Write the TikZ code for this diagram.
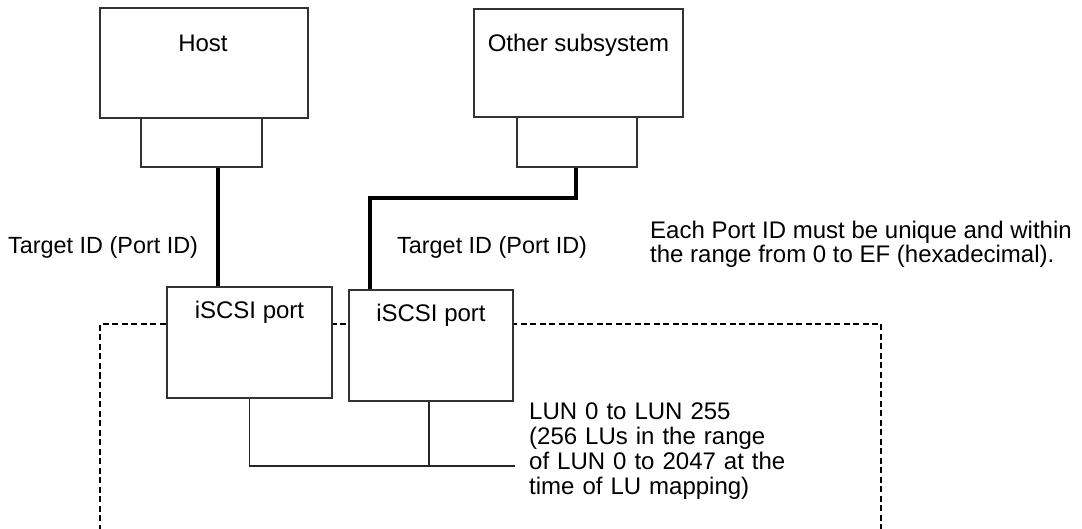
\documentclass[tikz,border=0pt]{standalone}
\usepackage{fontspec}
\setmainfont{Liberation Sans}
\begin{document}
\begin{tikzpicture}[x=1pt,y=-1pt,
  box/.style={draw=black!80, line width=1.4pt, fill=white, inner sep=0pt},
  txt/.style={font=\fontsize{24}{24.7}\selectfont, inner sep=0pt},
  tidtxt/.style={font=\fontsize{23.4}{24}\selectfont, inner sep=0pt},
  heavy/.style={line width=4pt, black},
  thin/.style={line width=1.4pt, black!85},
  dashline/.style={line width=2.4pt, black, dash pattern=on 6pt off 3.5pt}
]
\useasboundingbox (0,0) rectangle (1082,529);
% dashed storage boundary (open at bottom)
\coordinate (dbl) at (100,540);
\coordinate (dtl) at (100,324);
\coordinate (dtr) at (881,324);
\coordinate (dbr) at (881,540);
\draw[dashline] (dbl) -- (dtl) -- (dtr) -- (dbr);
% host side
\node[box, minimum width=208pt, minimum height=110pt] (host) at (204,63) {};
\node[box, minimum width=121pt, minimum height=49pt] (hostport) at (201.5,142.5) {};
\node[txt, anchor=base] (hostlbl) at (203,52) {Host};
% other subsystem
\node[box, minimum width=209pt, minimum height=108pt] (other) at (578.5,63) {};
\node[box, minimum width=120pt, minimum height=50pt] (otherport) at (577,142) {};
\node[txt, anchor=base] (otherlbl) at (578.5,52) {Other subsystem};
% iSCSI ports
\node[box, minimum width=165pt, minimum height=111pt] (p1) at (249.5,342.5) {};
\node[txt, anchor=base] (p1lbl) at (249.5,319) {iSCSI port};
\node[box, minimum width=164pt, minimum height=111pt] (p2) at (431,345.5) {};
\node[txt, anchor=base] (p2lbl) at (431,322) {iSCSI port};
% heavy connections
\draw[heavy] (hostport.south -| 218,0) -- (p1.north -| 218,0);
\coordinate (bend1) at (576,198);
\coordinate (bend2) at (370,198);
\draw[heavy] (otherport.south -| bend1) -- (bend1) -- (bend2) -- (p2.north -| bend2);
% LU connections
\coordinate (j1) at (249.5,466);
\coordinate (j2) at (429,466);
\coordinate (lunend) at (515,466);
\draw[thin] (p1.south) -- (j1) -- (lunend);
\draw[thin] (p2.south -| j2) -- (j2);
% labels
\node[tidtxt, anchor=base west] (tid1) at (8,254) {Target ID (Port ID)};
\node[tidtxt, anchor=base west] (tid2) at (397,254) {Target ID (Port ID)};
\node[txt, anchor=north west, align=left] (note) at (650,220.5)
  {Each Port ID must be unique and within\\the range from 0 to EF (hexadecimal).};
\node[txt, anchor=north west, text width=249pt, align=left] (lun) at (529,403)
  {LUN 0 to LUN 255\\
   \makebox[249pt][s]{(256 LUs in the range}\\
   \makebox[249pt][s]{of LUN 0 to 2047 at the}\\
   time of LU mapping)};
\end{tikzpicture}
\end{document}
